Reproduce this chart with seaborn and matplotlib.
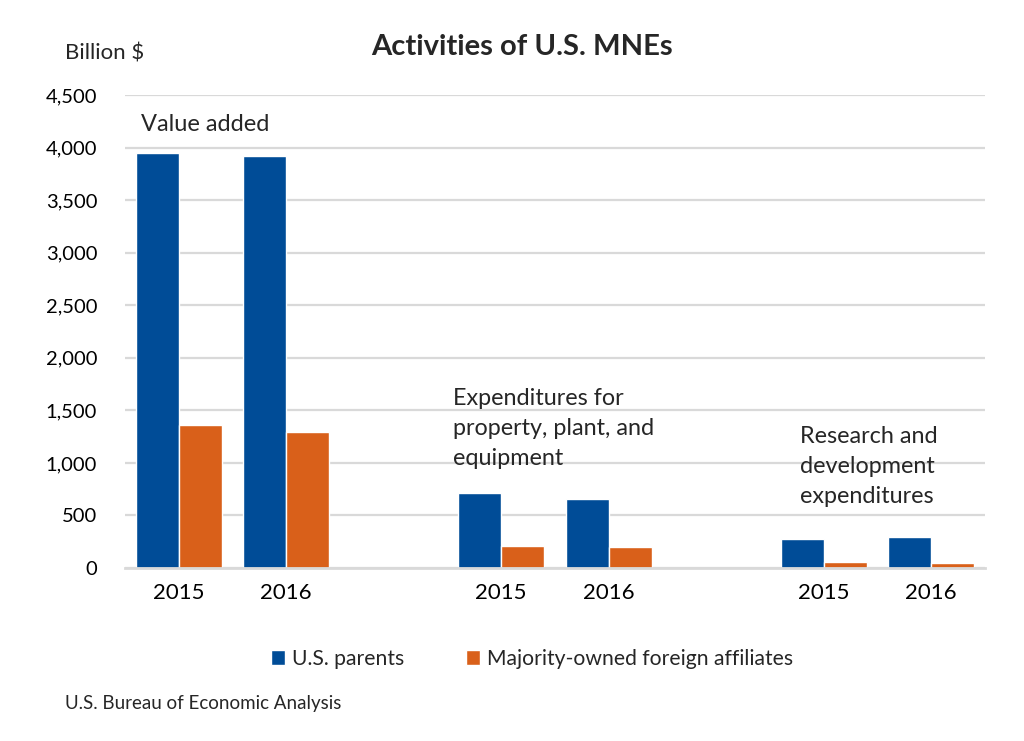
import pandas as pd
import matplotlib.pyplot as plt
import seaborn as sns
from matplotlib.patches import Patch
from matplotlib.ticker import FuncFormatter

# data (billion $)
groups = ["Value added", "Value added", "PPE", "PPE", "R&D", "R&D"]
years = ["2015", "2016", "2015", "2016", "2015", "2016"]
us_parents = [3945, 3920, 710, 655, 278, 292]
foreign_affiliates = [1357, 1297, 212, 197, 54, 49]
series_names = ["U.S. parents", "Majority-owned foreign affiliates"]
colors = ["#004C97", "#D9601A"]

slots = [f"{g} {y}" for g, y in zip(groups, years)]
order = [slots[0], slots[1], "gap1", slots[2], slots[3], "gap2", slots[4], slots[5]]
tick_labels = ["2015", "2016", "", "2015", "2016", "", "2015", "2016"]

rows = []
for s, a, b in zip(slots, us_parents, foreign_affiliates):
    rows.append({"slot": s, "series": series_names[0], "value": a})
    rows.append({"slot": s, "series": series_names[1], "value": b})
df = pd.DataFrame(rows)

sns.set_theme(style="white")
plt.rcParams["font.family"] = ["Lato", "DejaVu Sans"]

fig = plt.figure(figsize=(10.24, 7.41), dpi=100)
ax = fig.add_axes([125 / 1024, 1 - 568 / 741, 860 / 1024, 473 / 741])

sns.barplot(data=df, x="slot", y="value", hue="series", order=order,
            hue_order=series_names, palette=colors, width=0.8,
            saturation=1, ax=ax, legend=False)

ax.set_ylim(0, 4500)
ax.set_xlim(-0.5, 7.5)
ax.set_yticks(range(0, 4501, 500))
ax.yaxis.set_major_formatter(FuncFormatter(lambda v, p: f"{int(v):,}"))
ax.set_xticks(range(len(order)))
ax.set_xticklabels(tick_labels)
ax.tick_params(axis="both", colors="black", length=0)
ax.tick_params(axis="y", labelsize=14.5, pad=20)
ax.tick_params(axis="x", labelsize=16, pad=11)
ax.set_xlabel("")
ax.set_ylabel("")

ax.grid(axis="y", color="#D9D9D9", linewidth=1.6)
ax.set_axisbelow(True)
for side in ["top", "left", "right"]:
    ax.spines[side].set_visible(False)
ax.spines["bottom"].set_color("#D9D9D9")
ax.spines["bottom"].set_linewidth(2)

# titles and notes
fig.text(522 / 1024, 1 - 47 / 741, "Activities of U.S. MNEs", ha="center", va="center",
         fontsize=21, fontweight="bold")
fig.text(65 / 1024, 1 - 53 / 741, "Billion $", ha="left", va="center", fontsize=16)
fig.text(65 / 1024, 1 - 704 / 741, "U.S. Bureau of Economic Analysis", ha="left",
         va="center", fontsize=13.5)

ax.text(-0.35, 4215, "Value added", ha="left", va="center", fontsize=17)
ax.text(2.55, 1325, "Expenditures for\nproperty, plant, and\nequipment", ha="left",
        va="center", fontsize=16.8, linespacing=1.52)
ax.text(5.78, 965, "Research and\ndevelopment\nexpenditures", ha="left",
        va="center", fontsize=16.8, linespacing=1.52)

handles = [Patch(facecolor=c, label=n) for c, n in zip(colors, series_names)]
fig.legend(handles=handles, loc="center", bbox_to_anchor=(532 / 1024, 1 - 659 / 741),
           ncol=2, frameon=False, fontsize=15.2, handlelength=0.66, handleheight=0.66,
           handletextpad=0.33, columnspacing=2.9)

fig.savefig("out.png", dpi=100)
